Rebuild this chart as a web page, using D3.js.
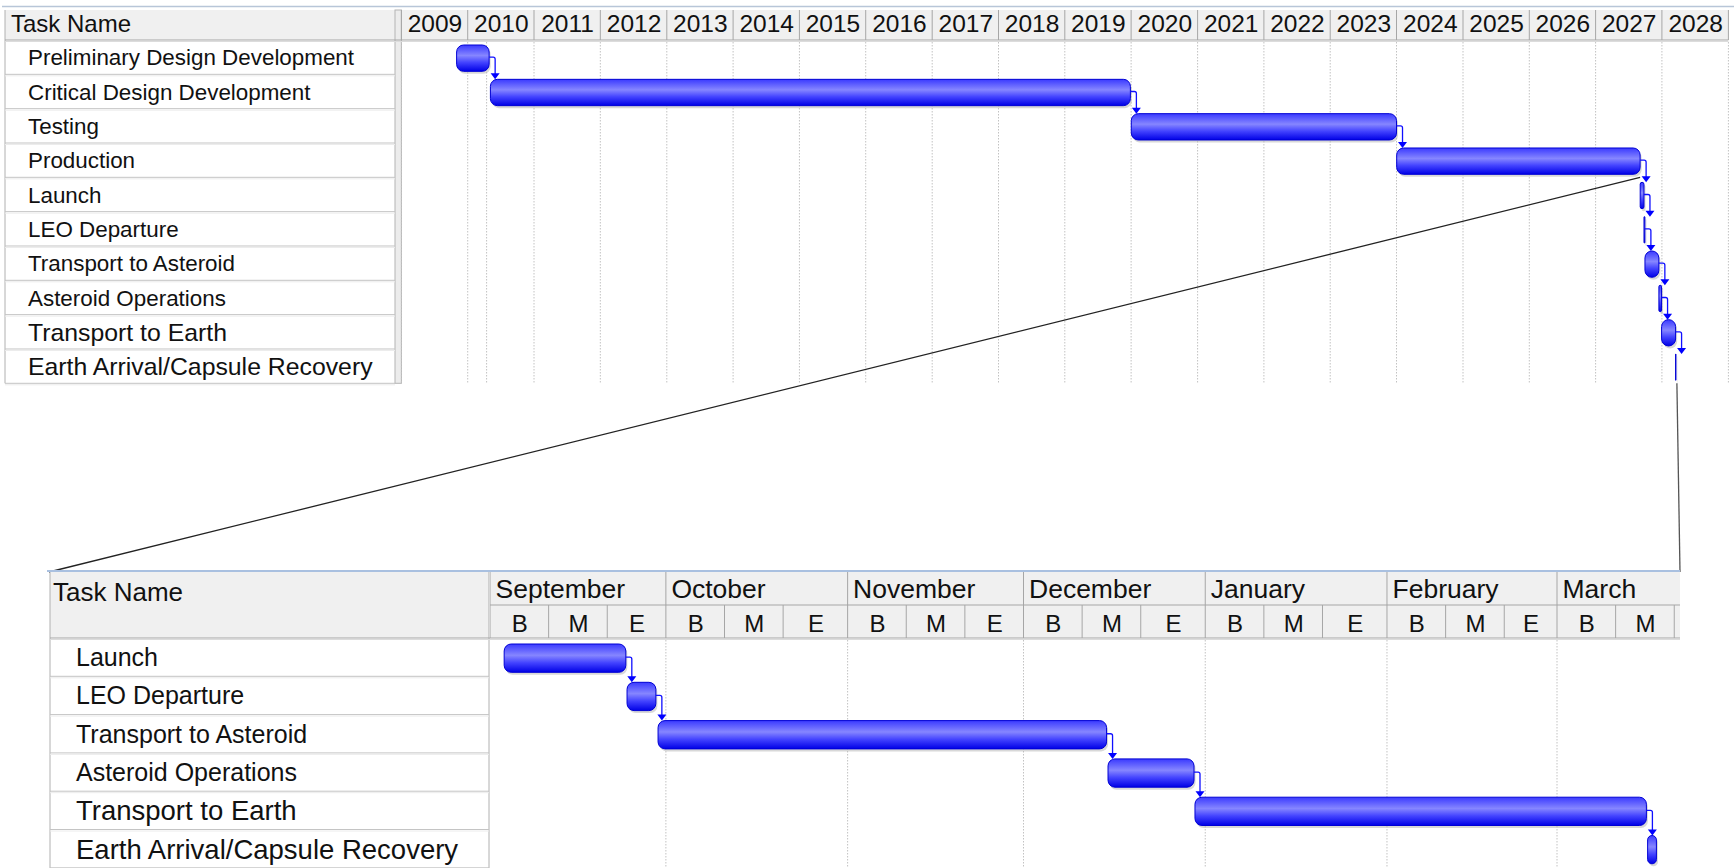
<!DOCTYPE html>
<html>
<head>
<meta charset="utf-8">
<script src="https://cdn.jsdelivr.net/npm/d3@7"></script>
<style>
    body { margin: 0; background: #fff; }
    svg { display: block; }
</style>
</head>
<body>
<div id="chart"></div>
<script>
// ---- data ----
// design / build phases (top chart only)
const phaseTasks = ["Preliminary Design Development", "Critical Design Development", "Testing", "Production"];
const phaseStarts = ["2009-11-01 00:00", "2010-05-06 00:00", "2020-01-02 00:00", "2024-01-02 00:00"];
const phaseEnds = ["2010-04-29 00:00", "2019-12-28 00:00", "2024-01-01 00:00", "2027-09-03 00:00"];

// mission phases (shown in both charts)
const missionTasks = ["Launch", "LEO Departure", "Transport to Asteroid", "Asteroid Operations",
    "Transport to Earth", "Earth Arrival/Capsule Recovery"];
const missionStarts = ["2027-09-03 10:00", "2027-09-24 09:00", "2027-09-29 16:00", "2027-12-15 10:00",
    "2027-12-30 06:00", "2028-03-16 11:00"];
const missionEnds = ["2027-09-24 04:00", "2027-09-29 07:00", "2027-12-15 04:00", "2027-12-30 02:00",
    "2028-03-16 06:00", "2028-03-17 23:00"];

const yearLabels = ["2009", "2010", "2011", "2012", "2013", "2014", "2015", "2016", "2017", "2018",
    "2019", "2020", "2021", "2022", "2023", "2024", "2025", "2026", "2027", "2028"];
const statusDate = "2010-04-15 00:00";

const monthLabels = ["September", "October", "November", "December", "January", "February", "March"];
const monthStarts = ["2027-09-01", "2027-10-01", "2027-11-01", "2027-12-01", "2028-01-01", "2028-02-01", "2028-03-01"];
const thirdLabels = ["B", "M", "E"];

// ---- setup ----
const width = 1734, height = 868;
const FONT = "'Liberation Sans', Arial, sans-serif";
const parseTime = d3.timeParse("%Y-%m-%d %H:%M");
const parseDay = d3.timeParse("%Y-%m-%d");
const bigRows = ["Transport to Earth", "Earth Arrival/Capsule Recovery"];

let svg = d3.select("#chart").append("svg")
    .attr("width", width)
    .attr("height", height)
    .attr("font-family", FONT);

let defs = svg.append("defs");
let grad = defs.append("linearGradient")
    .attr("id", "barFill")
    .attr("x1", 0).attr("y1", 0).attr("x2", 0).attr("y2", 1);
[[0, "#3a3aff"], [0.4, "#8686ff"], [0.66, "#4444ff"], [1, "#0000e6"]].forEach(s => {
    grad.append("stop").attr("offset", s[0]).attr("stop-color", s[1]);
});

function makeTasks(names, starts, ends) {
    return names.map((n, i) => ({name: n, start: parseTime(starts[i]), end: parseTime(ends[i])}));
}

// task name column with row separators
function drawTaskColumn(g, tasks, y, left, right, textX, sizeSmall, sizeBig) {
    g.selectAll("line.sep")
        .data(tasks)
        .enter()
        .append("line")
        .attr("x1", left).attr("x2", right)
        .attr("y1", d => y(d.name) + y.bandwidth())
        .attr("y2", d => y(d.name) + y.bandwidth())
        .attr("stroke", "#c4c4c4");
    g.selectAll("line.sep2")
        .data(tasks)
        .enter()
        .append("line")
        .attr("x1", left).attr("x2", right)
        .attr("y1", d => y(d.name) + y.bandwidth() + 1.5)
        .attr("y2", d => y(d.name) + y.bandwidth() + 1.5)
        .attr("stroke", "#ececec");
    g.selectAll("text.task")
        .data(tasks)
        .enter()
        .append("text")
        .attr("x", textX)
        .attr("y", d => y(d.name) + y.bandwidth() / 2)
        .attr("dy", "0.36em")
        .attr("font-size", d => bigRows.includes(d.name) ? sizeBig : sizeSmall)
        .attr("fill", "#111")
        .text(d => d.name);
}

// gantt bars with shadow
function drawBars(g, tasks, x, y, padTop, padBot) {
    let h = y.bandwidth() - padTop - padBot;
    let bar = g.selectAll("g.bar")
        .data(tasks)
        .enter()
        .append("g");
    bar.append("rect")
        .attr("x", d => x(d.start) + 1.5)
        .attr("y", d => y(d.name) + padTop + 2.5)
        .attr("width", d => x(d.end) - x(d.start))
        .attr("height", h)
        .attr("rx", d => Math.min(7, (x(d.end) - x(d.start)) / 2))
        .attr("fill", "#b8b8b8")
        .attr("opacity", 0.55);
    bar.append("rect")
        .attr("x", d => x(d.start))
        .attr("y", d => y(d.name) + padTop)
        .attr("width", d => x(d.end) - x(d.start))
        .attr("height", h)
        .attr("rx", d => Math.min(7, (x(d.end) - x(d.start)) / 2))
        .attr("fill", "url(#barFill)")
        .attr("stroke", "#0000d4")
        .attr("stroke-width", 1);
}

// finish-to-start links
function drawLinks(g, tasks, x, y, padTop) {
    let links = tasks.slice(1).map((t, i) => ({from: tasks[i], to: t}));
    g.selectAll("path.link")
        .data(links)
        .enter()
        .append("path")
        .attr("d", d => {
            let x0 = x(d.from.end), ym = y(d.from.name) + y.bandwidth() / 2;
            let x1 = x0 + 6, yt = y(d.to.name) + padTop;
            return `M${x0},${ym} H${x1 - 2} Q${x1},${ym} ${x1},${ym + 2} V${yt - 5}`;
        })
        .attr("fill", "none")
        .attr("stroke", "#1010ff")
        .attr("stroke-width", 1.3);
    g.selectAll("path.arrow")
        .data(links)
        .enter()
        .append("path")
        .attr("d", d => {
            let x1 = x(d.from.end) + 6, yt = y(d.to.name) + padTop;
            return `M${x1 - 4.5},${yt - 6} L${x1 + 4.5},${yt - 6} L${x1},${yt} Z`;
        })
        .attr("fill", "#0000ff");
}

// ---------------- top chart ----------------
const T = {left: 5, split: 395, tl: 401.4, right: 1728.4, headTop: 10, headBot: 40, rowH: 34.33};
let topTasksAll = makeTasks(phaseTasks.concat(missionTasks), phaseStarts.concat(missionStarts), phaseEnds.concat(missionEnds));

let topX = d3.scaleTime()
    .domain([new Date(2009, 0, 1), new Date(2029, 0, 1)])
    .range([T.tl, T.right]);
let topY = d3.scaleBand()
    .domain(topTasksAll.map(d => d.name))
    .range([T.headBot, T.headBot + topTasksAll.length * T.rowH]);
let topBottom = topY.range()[1];

let topG = svg.append("g");
topG.append("line")
    .attr("x1", 2).attr("x2", width).attr("y1", 6.5).attr("y2", 6.5)
    .attr("stroke", "#b8c6d8").attr("stroke-width", 1.5);
topG.append("rect")
    .attr("x", T.left).attr("y", T.headTop)
    .attr("width", T.split - T.left).attr("height", T.headBot - T.headTop)
    .attr("fill", "#f0f0f0");
topG.append("rect")
    .attr("x", T.tl).attr("y", T.headTop)
    .attr("width", T.right - T.tl).attr("height", T.headBot - T.headTop)
    .attr("fill", "#f0f0f0");
// splitter between table and timeline
topG.append("rect")
    .attr("x", T.split).attr("y", T.headTop)
    .attr("width", T.tl - T.split).attr("height", topBottom - T.headTop)
    .attr("fill", "#ececec").attr("stroke", "#b4b4b4").attr("stroke-width", 1);
topG.append("line")
    .attr("x1", T.left).attr("x2", T.left).attr("y1", T.headTop).attr("y2", topBottom)
    .attr("stroke", "#b0b0b0");
topG.append("line")
    .attr("x1", T.left).attr("x2", T.right).attr("y1", T.headBot).attr("y2", T.headBot)
    .attr("stroke", "#a6a6a6");
topG.append("line")
    .attr("x1", T.left).attr("x2", T.right).attr("y1", T.headBot + 1.5).attr("y2", T.headBot + 1.5)
    .attr("stroke", "#dcdcdc");

topG.append("text")
    .attr("x", 11).attr("y", 32)
    .attr("font-size", 24)
    .attr("fill", "#111")
    .text("Task Name");

// year cells and grid
let yearBounds = d3.range(2009, 2030).map(y => new Date(y, 0, 1));
topG.selectAll("line.ycell")
    .data(yearBounds)
    .enter()
    .append("line")
    .attr("x1", d => topX(d)).attr("x2", d => topX(d))
    .attr("y1", T.headTop).attr("y2", T.headBot)
    .attr("stroke", "#a6a6a6");
topG.selectAll("line.ygrid")
    .data(yearBounds.concat([parseTime(statusDate)]))
    .enter()
    .append("line")
    .attr("x1", d => topX(d)).attr("x2", d => topX(d))
    .attr("y1", T.headBot + 2).attr("y2", topBottom)
    .attr("stroke", "#c2c2c2")
    .attr("stroke-dasharray", "1.5,1.5");

let yearAxis = d3.axisTop(topX)
    .tickValues(yearLabels.map(y => new Date(+y, 6, 2)))
    .tickFormat((d, i) => yearLabels[i])
    .tickSize(0)
    .tickPadding(0);
topG.append("g")
    .attr("transform", "translate(0,32)")
    .call(yearAxis)
    .call(g => g.select(".domain").remove())
    .attr("font-family", FONT)
    .attr("font-size", 24.5)
    .selectAll("text").attr("fill", "#111");

drawTaskColumn(topG, topTasksAll, topY, T.left, T.split, 28, 22.4, 24.8);
drawBars(topG, topTasksAll, topX, topY, 5, 3);
drawLinks(topG, topTasksAll, topX, topY, 5);

// ---------------- zoom connectors ----------------
const B = {left: 50, split: 489, tl: 490, right: 1680, headTop: 572, midHead: 605, headBot: 638, rowH: 38.3};
let prodEnd = topX(parseTime(phaseEnds[phaseEnds.length - 1]));
let lastEnd = topX(parseTime(missionEnds[missionEnds.length - 1]));
svg.append("line")
    .attr("x1", prodEnd).attr("y1", topY(phaseTasks[3]) + topY.bandwidth())
    .attr("x2", B.left - 1).attr("y2", B.headTop)
    .attr("stroke", "#222").attr("stroke-width", 1.3);
svg.append("line")
    .attr("x1", lastEnd + 1).attr("y1", topBottom)
    .attr("x2", B.right).attr("y2", B.headTop)
    .attr("stroke", "#555").attr("stroke-width", 1.3);

// ---------------- bottom (zoomed) chart ----------------
let zoomTasks = makeTasks(missionTasks, missionStarts, missionEnds);
let months = monthStarts.map(parseDay);

let zoomX = d3.scaleTime()
    .domain([months[0], months[months.length - 1]])
    .range([B.tl, 1557]);
let zoomY = d3.scaleBand()
    .domain(zoomTasks.map(d => d.name))
    .range([B.headBot, B.headBot + zoomTasks.length * B.rowH]);

let botG = svg.append("g");
defs.append("clipPath").attr("id", "zoomClip")
    .append("rect")
    .attr("x", B.tl).attr("y", B.headTop - 2)
    .attr("width", B.right - B.tl).attr("height", height - B.headTop + 2);

botG.append("line")
    .attr("x1", B.left - 3).attr("x2", B.right).attr("y1", B.headTop - 1).attr("y2", B.headTop - 1)
    .attr("stroke", "#a9c0e0").attr("stroke-width", 2);
botG.append("rect")
    .attr("x", B.left).attr("y", B.headTop)
    .attr("width", B.split - B.left).attr("height", B.headBot - B.headTop)
    .attr("fill", "#f0f0f0");
botG.append("rect")
    .attr("x", B.tl).attr("y", B.headTop)
    .attr("width", B.right - B.tl).attr("height", B.headBot - B.headTop)
    .attr("fill", "#f0f0f0");
botG.append("line")
    .attr("x1", B.left).attr("x2", B.left).attr("y1", B.headTop).attr("y2", height)
    .attr("stroke", "#b0b0b0");
botG.append("line")
    .attr("x1", B.split).attr("x2", B.split).attr("y1", B.headTop).attr("y2", height)
    .attr("stroke", "#b0b0b0");
botG.append("line")
    .attr("x1", B.tl).attr("x2", B.right).attr("y1", B.midHead).attr("y2", B.midHead)
    .attr("stroke", "#a6a6a6");
botG.append("line")
    .attr("x1", B.left).attr("x2", B.right).attr("y1", B.headBot).attr("y2", B.headBot)
    .attr("stroke", "#a6a6a6");
botG.append("line")
    .attr("x1", B.left).attr("x2", B.right).attr("y1", B.headBot + 1.5).attr("y2", B.headBot + 1.5)
    .attr("stroke", "#dcdcdc");

botG.append("text")
    .attr("x", 53).attr("y", 601)
    .attr("font-size", 26)
    .attr("fill", "#111")
    .text("Task Name");

let tl = botG.append("g").attr("clip-path", "url(#zoomClip)");

// thirds of each month: Beginning, Middle, End
let thirds = [];
months.forEach(m => {
    let next = d3.timeMonth.offset(m, 1);
    let b = [m, d3.timeDay.offset(m, 10), d3.timeDay.offset(m, 20), next];
    for (let k = 0; k < 3; k++) {
        thirds.push({start: b[k], mid: new Date((+b[k] + +b[k + 1]) / 2), label: thirdLabels[k]});
    }
});

tl.selectAll("line.mcell")
    .data(months)
    .enter()
    .append("line")
    .attr("x1", d => zoomX(d)).attr("x2", d => zoomX(d))
    .attr("y1", B.headTop).attr("y2", B.headBot)
    .attr("stroke", "#a6a6a6");
tl.selectAll("line.tcell")
    .data(thirds.filter(d => d.label !== thirdLabels[0]))
    .enter()
    .append("line")
    .attr("x1", d => zoomX(d.start)).attr("x2", d => zoomX(d.start))
    .attr("y1", B.midHead).attr("y2", B.headBot)
    .attr("stroke", "#a6a6a6");
tl.selectAll("line.mgrid")
    .data(months.slice(1))
    .enter()
    .append("line")
    .attr("x1", d => zoomX(d)).attr("x2", d => zoomX(d))
    .attr("y1", B.headBot + 2).attr("y2", height)
    .attr("stroke", "#c2c2c2")
    .attr("stroke-dasharray", "1.5,1.5");

let monthAxis = d3.axisTop(zoomX)
    .tickValues(months)
    .tickFormat((d, i) => monthLabels[i])
    .tickSize(0)
    .tickPadding(0);
tl.append("g")
    .attr("transform", "translate(0,598)")
    .call(monthAxis)
    .call(g => g.select(".domain").remove())
    .attr("font-family", FONT)
    .attr("font-size", 26.5)
    .selectAll("text")
    .attr("text-anchor", "start")
    .attr("x", 5)
    .attr("fill", "#111");

let thirdAxis = d3.axisTop(zoomX)
    .tickValues(thirds.map(d => d.mid))
    .tickFormat((d, i) => thirds[i].label)
    .tickSize(0)
    .tickPadding(0);
tl.append("g")
    .attr("transform", "translate(0,631.5)")
    .call(thirdAxis)
    .call(g => g.select(".domain").remove())
    .attr("font-family", FONT)
    .attr("font-size", 24)
    .selectAll("text").attr("fill", "#111");

drawTaskColumn(botG, zoomTasks, zoomY, B.left, B.split, 76, 25, 27.5);
drawBars(botG, zoomTasks, zoomX, zoomY, 6, 4);
drawLinks(botG, zoomTasks, zoomX, zoomY, 6);
</script>
</body>
</html>
